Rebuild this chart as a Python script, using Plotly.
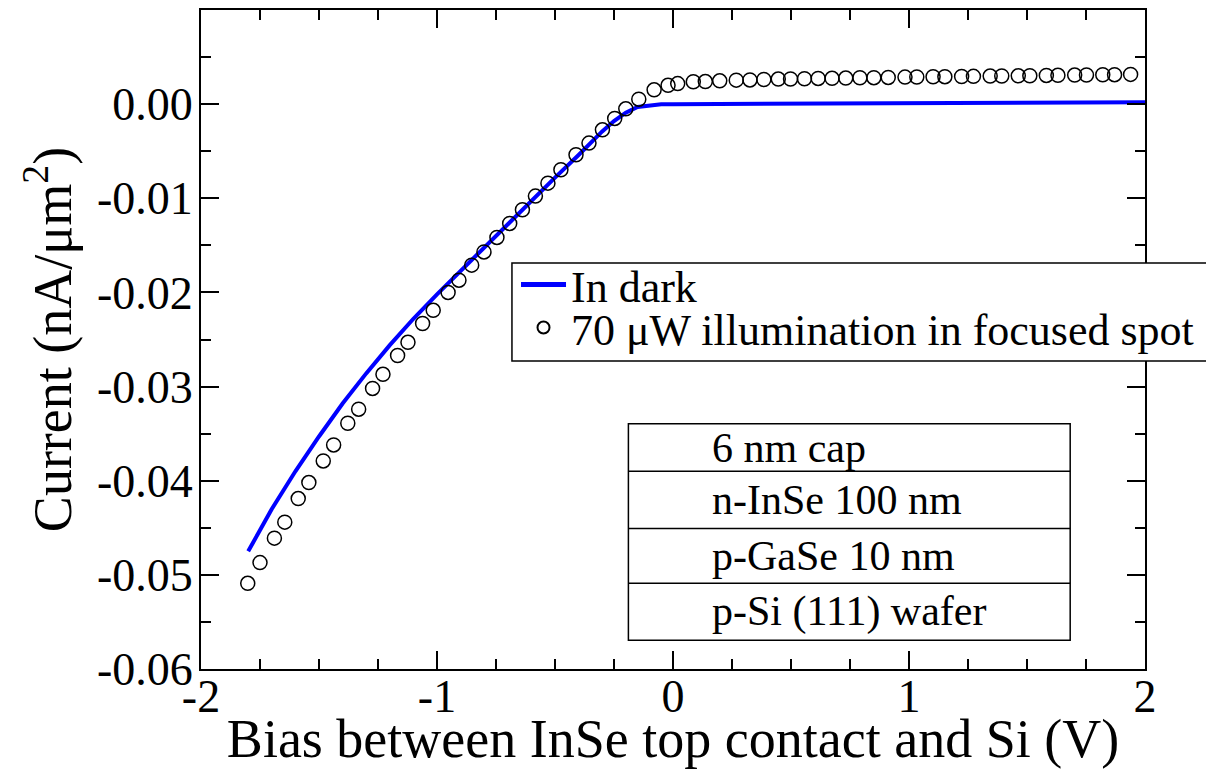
import plotly.graph_objects as go

# ---------------- data ----------------
dark_x = [-1.80, -1.70, -1.60, -1.50, -1.40, -1.30, -1.20, -1.10, -1.00, -0.90,
          -0.80, -0.70, -0.60, -0.50, -0.40, -0.30, -0.25, -0.20, -0.15, -0.10,
          -0.05, 0.00, 0.50, 1.00, 1.50, 2.00]
dark_y = [-0.0475, -0.0430, -0.0390, -0.0353, -0.0318, -0.0286, -0.0256, -0.0228, -0.0202, -0.0177,
          -0.0152, -0.0127, -0.0102, -0.0078, -0.0054, -0.0029, -0.0018, -0.0009, -0.0003, -0.0001,
          0.0000, 0.0000, 0.00005, 0.00010, 0.00015, 0.00020]

illum_x = [-1.802, -1.750, -1.689, -1.645, -1.588, -1.543, -1.482, -1.438, -1.378, -1.332,
           -1.273, -1.229, -1.167, -1.123, -1.061, -1.016, -0.953, -0.907, -0.853, -0.801,
           -0.746, -0.692, -0.638, -0.583, -0.530, -0.475, -0.411, -0.356, -0.299, -0.247,
           -0.200, -0.145, -0.080, -0.021, 0.020, 0.086, 0.137, 0.198, 0.268, 0.326,
           0.385, 0.446, 0.498, 0.557, 0.615, 0.674, 0.732, 0.792, 0.851, 0.912,
           0.983, 1.033, 1.102, 1.152, 1.223, 1.273, 1.344, 1.393, 1.463, 1.512,
           1.582, 1.631, 1.702, 1.752, 1.821, 1.871, 1.939]
illum_y = [-0.0509, -0.0487, -0.0461, -0.0444, -0.0419, -0.0402, -0.0379, -0.0362, -0.0339, -0.0324,
           -0.0302, -0.0287, -0.0267, -0.0253, -0.0233, -0.0219, -0.0200, -0.0187, -0.0171, -0.0157,
           -0.01416, -0.01267, -0.01122, -0.00977, -0.00839, -0.00697, -0.00538, -0.00414, -0.00273, -0.00152,
           -0.0005, 0.00053, 0.00152, 0.00200, 0.00218, 0.00238, 0.00240, 0.00248, 0.00255, 0.00257,
           0.00262, 0.00266, 0.00267, 0.00270, 0.00273, 0.00274, 0.00277, 0.00280, 0.00281, 0.00284,
           0.00287, 0.00288, 0.00291, 0.00292, 0.00294, 0.00295, 0.00298, 0.00299, 0.00301, 0.00302,
           0.00305, 0.00306, 0.00309, 0.00310, 0.00312, 0.00313, 0.00316]

x_tickvals = [-2, -1, 0, 1, 2]
x_ticktext = ["-2", "-1", "0", "1", "2"]
y_tickvals = [-0.06, -0.05, -0.04, -0.03, -0.02, -0.01, 0.0]
y_ticktext = ["-0.06", "-0.05", "-0.04", "-0.03", "-0.02", "-0.01", "0.00"]

# inset layer-stack labels (top to bottom) and cell boundaries in data units
layer_labels = ["6 nm cap", "n-InSe 100 nm", "p-GaSe 10 nm", "p-Si (111) wafer"]
layer_bounds_y = [-0.03395, -0.0390, -0.04507, -0.0509, -0.05694]
layer_box_x = [-0.189, 1.683]
layer_text_x = 0.158

FONT = "Liberation Serif"

fig = go.Figure()
fig.add_trace(go.Scatter(
    x=dark_x, y=dark_y, mode="lines", name="In dark",
    line=dict(color="#0000ff", width=4), legend="legend",
))
fig.add_trace(go.Scatter(
    x=illum_x, y=illum_y, mode="markers",
    name="70 \u03bcW illumination in focused spot",
    marker=dict(symbol="circle-open", size=14, color="black", line=dict(width=1.5, color="black")),
    legend="legend2",
))

# legend frame (white box with black border, covering the plot behind it)
shapes = [dict(type="rect", xref="paper", yref="paper", layer="above",
               x0=0.3294, x1=1.0720, y0=0.4674, y1=0.6161,
               line=dict(color="black", width=1.5), fillcolor="white")]

# inset layer stack
shapes.append(dict(type="rect", xref="x", yref="y",
                   x0=layer_box_x[0], x1=layer_box_x[1],
                   y0=layer_bounds_y[-1], y1=layer_bounds_y[0],
                   line=dict(color="black", width=1.5), fillcolor="rgba(0,0,0,0)"))
for yb in layer_bounds_y[1:-1]:
    shapes.append(dict(type="line", xref="x", yref="y",
                       x0=layer_box_x[0], x1=layer_box_x[1], y0=yb, y1=yb,
                       line=dict(color="black", width=1.5)))
annotations = []
for i, lab in enumerate(layer_labels):
    yc = (layer_bounds_y[i] + layer_bounds_y[i + 1]) / 2
    annotations.append(dict(x=layer_text_x, y=yc, xref="x", yref="y", text=lab,
                            showarrow=False, xanchor="left", yanchor="middle",
                            font=dict(family=FONT, size=42, color="black")))

axis_common = dict(
    showline=True, linecolor="black", linewidth=2, mirror="ticks",
    ticks="inside", ticklen=18, tickwidth=2, tickcolor="black",
    showgrid=False, zeroline=False, automargin=False,
    tickfont=dict(family=FONT, size=46, color="black"),
)

legend_common = dict(xanchor="left", yanchor="middle",
                     bgcolor="rgba(0,0,0,0)", borderwidth=0,
                     font=dict(family=FONT, size=44, color="black"),
                     itemwidth=45, itemsizing="constant")

fig.update_layout(
    width=1206, height=761,
    margin=dict(l=193, r=69, t=2, b=100),
    paper_bgcolor="white", plot_bgcolor="white",
    font=dict(family=FONT, color="black"),
    shapes=shapes, annotations=annotations,
    xaxis=dict(range=[-2, 2], tickmode="array", tickvals=x_tickvals, ticktext=x_ticktext,
               ticklabelstandoff=-14,
               minor=dict(dtick=0.25, tick0=0, ticks="inside", ticklen=10, tickwidth=2,
                          tickcolor="black", showgrid=False),
               title=dict(text="Bias between InSe top contact and Si (V)",
                          font=dict(family=FONT, size=54, color="black"), standoff=0),
               **axis_common),
    yaxis=dict(range=[-0.06, 0.01], tickmode="array", tickvals=y_tickvals, ticktext=y_ticktext,
               ticklabelstandoff=-3,
               minor=dict(dtick=0.005, tick0=0, ticks="inside", ticklen=10, tickwidth=2,
                          tickcolor="black", showgrid=False),
               title=dict(text="Current (nA/\u03bcm<sup>2</sup>)",
                          font=dict(family=FONT, size=54, color="black"), standoff=8),
               **axis_common),
    legend=dict(x=0.3337, y=0.5827, **legend_common),
    legend2=dict(x=0.3337, y=0.5175, **legend_common),
    showlegend=True,
)

fig.write_html("out.html")
